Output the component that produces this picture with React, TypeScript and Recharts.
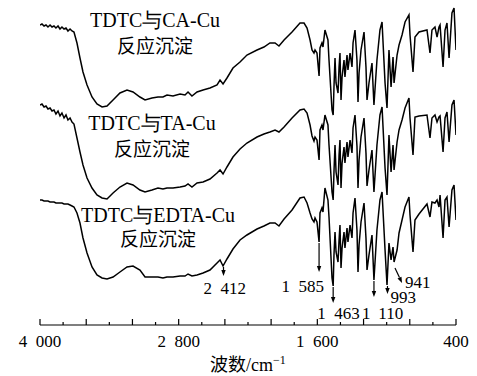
import { Line, LineChart, ReferenceLine, XAxis, YAxis } from "recharts";

// wavenumber grid (cm-1), shared by the three spectra
const wavenumbers = [
  4000, 3983, 3965, 3948, 3931, 3913, 3896, 3879, 3862, 3844, 3827, 3810, 3792, 3775, 3758, 3740, 3723, 3706,
  3680, 3654, 3628, 3593, 3550, 3507, 3463, 3420, 3368, 3308,
  3247, 3195, 3135, 3091, 3031, 2979, 2936, 2901, 2849, 2788,
  2745, 2719, 2685, 2641, 2589, 2529, 2468, 2442, 2416, 2382,
  2330, 2269, 2209, 2122, 2062, 2010, 1966, 1932, 1888, 1819,
  1750, 1715, 1689, 1663, 1646, 1629, 1620, 1603, 1585, 1577,
  1560, 1551, 1534, 1508, 1499, 1473, 1463, 1456, 1447, 1438,
  1421, 1412, 1404, 1395, 1386, 1369, 1361, 1343, 1335, 1317,
  1300, 1291, 1274, 1257, 1248, 1239, 1222, 1196, 1179, 1170,
  1153, 1127, 1110, 1084, 1058, 1040, 1014, 997, 980, 962,
  945, 936, 910, 893, 867, 841, 807, 798, 772, 755,
  720, 651, 625, 608, 582, 564, 547, 538, 512, 495,
  478, 460, 435, 417, 400,
];

// offset transmittance (a.u.)
const caCu = [
  300, 301, 299, 300, 298, 300, 298, 299, 297, 299, 296, 298, 296, 297, 294, 296, 294, 293,
  282, 267, 253, 240, 228, 221, 218, 219, 225, 232,
  235, 233, 228, 225, 227, 228, 228, 230, 229, 231,
  230, 233, 229, 233, 235, 237, 240, 245, 241, 247,
  257, 263, 270, 275, 278, 282, 282, 279, 285, 293,
  302, 302, 297, 285, 275, 272, 275, 272, 249, 277,
  282, 278, 295, 285, 265, 215, 210, 238, 267, 242,
  232, 258, 272, 225, 248, 265, 248, 270, 255, 272,
  258, 282, 295, 265, 223, 252, 275, 293, 258, 225,
  242, 262, 220, 265, 295, 303, 242, 217, 275, 238,
  268, 242, 270, 280, 290, 303, 310, 290, 253, 288,
  293, 295, 272, 295, 298, 288, 298, 300, 258, 295,
  302, 267, 312, 317, 275,
];

const taCu = [
  220, 221, 218, 219, 216, 217, 214, 215, 211, 214, 209, 212, 207, 210, 205, 207, 203, 201,
  187, 173, 160, 147, 137, 130, 127, 126, 132, 138,
  142, 140, 135, 133, 135, 137, 136, 137, 137, 138,
  139, 141, 138, 142, 143, 146, 152, 155, 151, 158,
  168, 176, 182, 188, 191, 193, 195, 193, 198, 207,
  215, 216, 212, 200, 189, 184, 188, 185, 165, 195,
  200, 195, 210, 200, 180, 133, 125, 153, 180, 153,
  140, 170, 185, 137, 162, 178, 162, 183, 168, 185,
  172, 197, 210, 179, 137, 165, 188, 207, 172, 139,
  155, 175, 133, 180, 210, 218, 157, 130, 190, 153,
  180, 155, 183, 195, 205, 217, 227, 207, 170, 208,
  209, 210, 187, 207, 210, 203, 208, 209, 173, 207,
  213, 183, 220, 225, 190,
];

const edtaCu = [
  125, 125, 124, 124, 124, 123, 123, 123, 122, 122, 122, 122, 121, 121, 121, 120, 119, 118,
  112, 102, 87, 72, 58, 50, 47, 46, 48, 53,
  58, 59, 55, 48, 48, 48, 47, 48, 48, 49,
  49, 51, 49, 50, 52, 55, 62, 65, 59, 66,
  76, 85, 90, 96, 99, 102, 102, 99, 106, 115,
  127, 128, 122, 112, 106, 103, 107, 103, 83, 112,
  117, 113, 137, 125, 108, 47, 39, 70, 93, 73,
  63, 85, 100, 57, 77, 93, 77, 97, 83, 100,
  87, 112, 127, 95, 53, 80, 103, 122, 87, 55,
  70, 90, 45, 95, 125, 133, 75, 40, 82, 65,
  78, 63, 75, 92, 105, 118, 128, 110, 73, 105,
  111, 121, 108, 123, 122, 125, 118, 130, 87, 125,
  128, 98, 135, 140, 105,
];

const xTicks = [400, 600, 800, 1000, 1200, 1400, 1600, 1800, 2000, 2200, 2400, 2600, 2800, 3000, 3200, 3400, 3600, 3800, 4000];
const tickLabels: Record<number, string> = { 4000: "4 000", 2800: "2 800", 1600: "1 600", 400: "400" };

// marked bands on the EDTA-Cu spectrum: arrow from curve to tip, label offset from tip
const peaks = [
  { text: "2 412", from: [2412, 58], to: [2412, 49], dx: -20, dy: 18, anchor: "start" },
  { text: "1 585", from: [1585, 82], to: [1585, 53], dx: 5, dy: 20, anchor: "end" },
  { text: "1 463", from: [1463, 38], to: [1463, 22], dx: -16, dy: 16, anchor: "start" },
  { text: "1 110", from: [1110, 44], to: [1110, 28], dx: -12, dy: 22, anchor: "start" },
  { text: "993", from: [993, 39], to: [993, 31], dx: 3, dy: 9, anchor: "start" },
  { text: "941", from: [928, 57], to: [867, 42], dx: 3, dy: 5, anchor: "start" },
];

const serif = "'Liberation Serif', 'Times New Roman', serif";
const cjk = "'Noto Sans CJK SC', sans-serif";

// digit groups split by a wide gap, like "2 800"
function Grouped({ s }: { s: string }) {
  const parts = s.split(" ");
  return (
    <>
      {parts.map((p, i) => (
        <tspan key={i} dx={i > 0 ? 8.5 : 0}>
          {p}
        </tspan>
      ))}
    </>
  );
}

function AxisTick(props: any) {
  const { x, y, payload } = props;
  const v = payload.value;
  const major = v % 400 === 0;
  const label = tickLabels[v];
  return (
    <g>
      <line x1={x} x2={x} y1={y} y2={y - (major ? 6 : 3)} stroke="#000" strokeWidth={1.2} />
      {label && (
        <text x={x} y={y + 22} textAnchor="middle" style={{ fontFamily: serif, fontSize: 17 }} fill="#000">
          <Grouped s={label} />
        </text>
      )}
    </g>
  );
}

function PeakArrow(props: any) {
  const { x1, y1, x2, y2, peak } = props;
  const a = Math.atan2(y2 - y1, x2 - x1);
  const len = 6;
  const w = 2.2;
  const bx = x2 - len * Math.cos(a);
  const by = y2 - len * Math.sin(a);
  const px = -Math.sin(a) * w;
  const py = Math.cos(a) * w;
  return (
    <g>
      <line x1={x1} y1={y1} x2={bx} y2={by} stroke="#000" strokeWidth={1.2} />
      <polygon points={`${x2},${y2} ${bx + px},${by + py} ${bx - px},${by - py}`} fill="#000" />
      <text
        x={x2 + peak.dx}
        y={y2 + peak.dy}
        textAnchor={peak.anchor}
        style={{ fontFamily: serif, fontSize: 17 }}
        fill="#000"
      >
        <Grouped s={peak.text} />
      </text>
    </g>
  );
}

const seriesLabels = [
  { title: "TDTC与CA-Cu", cx: 155, y1: 27, y2: 53 },
  { title: "TDTC与TA-Cu", cx: 152, y1: 130, y2: 156 },
  { title: "TDTC与EDTA-Cu", cx: 158, y1: 222, y2: 246 },
];

export default function App() {
  const data = wavenumbers.map((wn, i) => ({ wn, ca: caCu[i], ta: taCu[i], edta: edtaCu[i] }));
  return (
    <div style={{ position: "absolute", left: 0, top: 0, width: 477, height: 376, background: "#fff" }}>
      <LineChart width={477} height={376} data={data} margin={{ top: 0, right: 21, bottom: 21, left: 40 }}>
        <XAxis
          dataKey="wn"
          type="number"
          domain={[400, 4000]}
          reversed
          ticks={xTicks}
          interval={0}
          tick={(p: any) => <AxisTick {...p} />}
          tickLine={false}
          tickSize={0}
          tickMargin={0}
          height={30}
          axisLine={{ stroke: "#000", strokeWidth: 1.2 }}
          allowDataOverflow
        />
        <YAxis hide type="number" domain={[0, 325]} allowDataOverflow />
        <Line dataKey="ca" type="linear" stroke="#000" strokeWidth={1.5} dot={false} isAnimationActive={false} />
        <Line dataKey="ta" type="linear" stroke="#000" strokeWidth={1.5} dot={false} isAnimationActive={false} />
        <Line dataKey="edta" type="linear" stroke="#000" strokeWidth={1.5} dot={false} isAnimationActive={false} />
        {peaks.map((p) => (
          <ReferenceLine
            key={p.text}
            segment={[
              { x: p.from[0], y: p.from[1] },
              { x: p.to[0], y: p.to[1] },
            ]}
            ifOverflow="visible"
            shape={(sp: any) => <PeakArrow {...sp} peak={p} />}
          />
        ))}
      </LineChart>
      <svg width={477} height={376} style={{ position: "absolute", left: 0, top: 0, pointerEvents: "none" }}>
        {seriesLabels.map((s) => (
          <g key={s.title}>
            <text x={s.cx} y={s.y1} textAnchor="middle" style={{ fontFamily: serif, fontSize: 20 }} fill="#000">
              {s.title}
            </text>
            <text x={s.cx} y={s.y2} textAnchor="middle" style={{ fontFamily: cjk, fontSize: 19 }} fill="#000">
              反应沉淀
            </text>
          </g>
        ))}
        <text x={210} y={371} style={{ fontFamily: serif, fontSize: 18 }} fill="#000">
          <tspan style={{ fontFamily: cjk }}>波数</tspan>
          <tspan>/cm</tspan>
          <tspan dy={-7} style={{ fontSize: 12 }}>−1</tspan>
        </text>
      </svg>
    </div>
  );
}
